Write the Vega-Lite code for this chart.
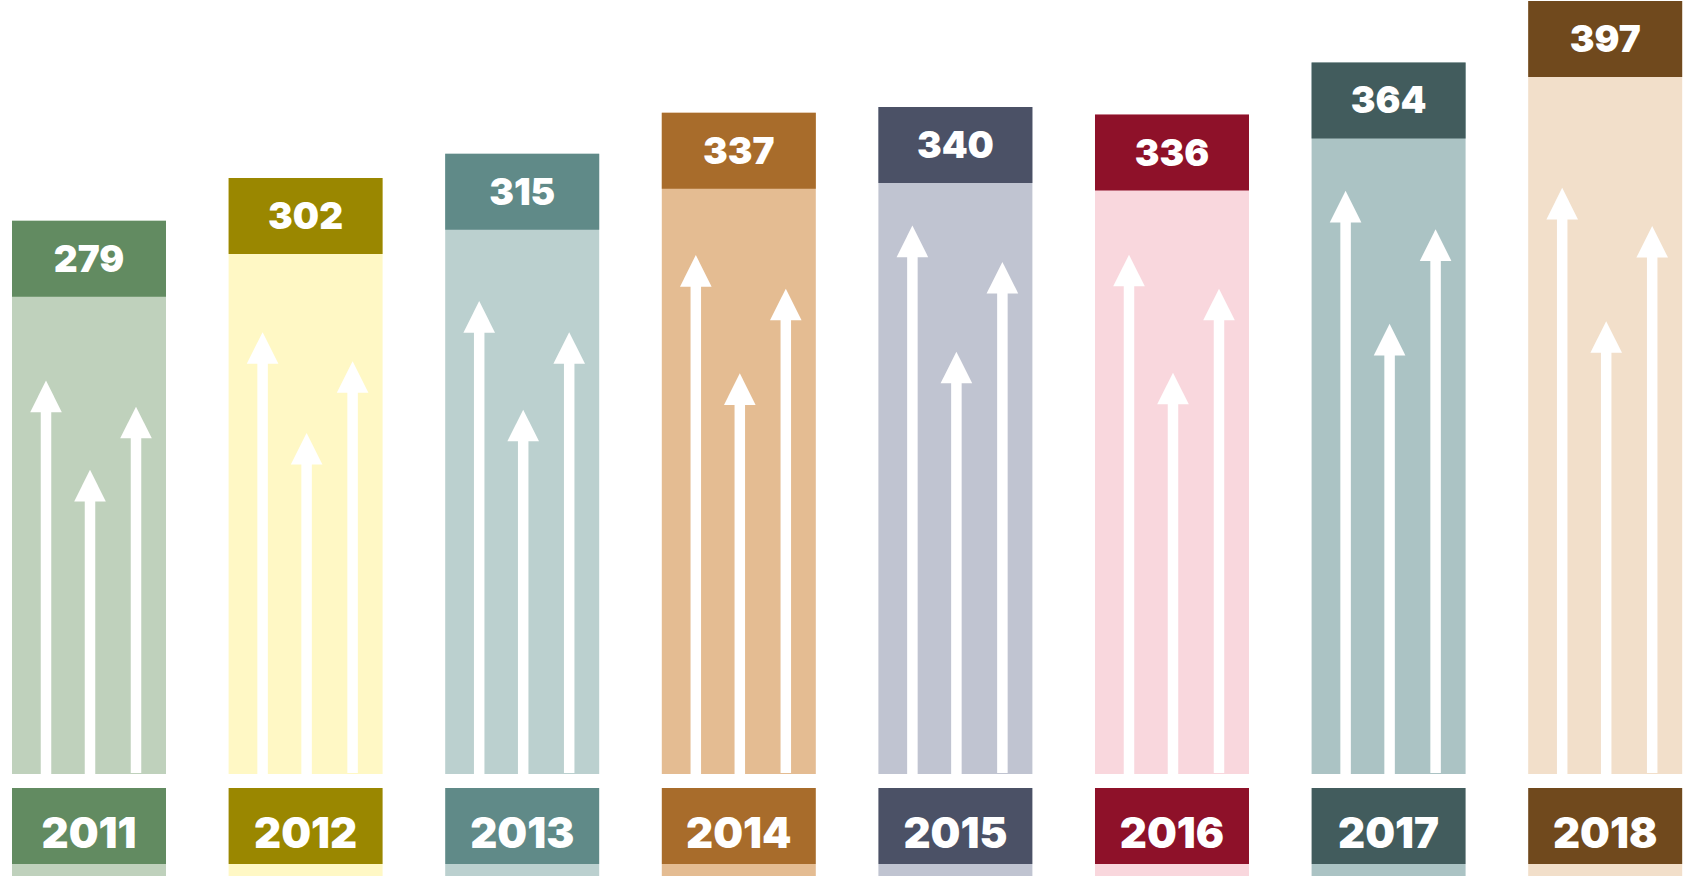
{
  "$schema": "https://vega.github.io/schema/vega-lite/v6.json",
  "padding": 0,
  "background": "white",
  "spacing": 14,
  "bounds": "flush",
  "config": {"view": {"stroke": null}, "axis": {"disable": true}, "legend": {"disable": true}, "concat": {"spacing": 14}},
  "datasets": {
    "bars": [
      {"year": "2011", "value": 279},
      {"year": "2012", "value": 302},
      {"year": "2013", "value": 315},
      {"year": "2014", "value": 337},
      {"year": "2015", "value": 340},
      {"year": "2016", "value": 336},
      {"year": "2017", "value": 364},
      {"year": "2018", "value": 397}
    ],
    "arrows": [
      {"year": "2011", "pos": "L", "tip": 193.2}, {"year": "2011", "pos": "M", "tip": 145.3}, {"year": "2011", "pos": "R", "tip": 179.2},
      {"year": "2012", "pos": "L", "tip": 219.2}, {"year": "2012", "pos": "M", "tip": 165.1}, {"year": "2012", "pos": "R", "tip": 203.6},
      {"year": "2013", "pos": "L", "tip": 235.9}, {"year": "2013", "pos": "M", "tip": 177.6}, {"year": "2013", "pos": "R", "tip": 219.2},
      {"year": "2014", "pos": "L", "tip": 260.6}, {"year": "2014", "pos": "M", "tip": 197.1}, {"year": "2014", "pos": "R", "tip": 242.5},
      {"year": "2015", "pos": "L", "tip": 276.4}, {"year": "2015", "pos": "M", "tip": 208.7}, {"year": "2015", "pos": "R", "tip": 256.9},
      {"year": "2016", "pos": "L", "tip": 260.8}, {"year": "2016", "pos": "M", "tip": 197.4}, {"year": "2016", "pos": "R", "tip": 242.5},
      {"year": "2017", "pos": "L", "tip": 295.1}, {"year": "2017", "pos": "M", "tip": 223.7}, {"year": "2017", "pos": "R", "tip": 274.4},
      {"year": "2018", "pos": "L", "tip": 296.7}, {"year": "2018", "pos": "M", "tip": 225.1}, {"year": "2018", "pos": "R", "tip": 276.2}
    ]
  },
  "vconcat": [
    {
      "width": 1687,
      "height": 774,
      "encoding": {
        "x": {"field": "year", "type": "nominal", "axis": null, "sort": null,
              "scale": {"type": "band", "paddingInner": 0.289, "paddingOuter": 0.0388, "align": 0.714}}
      },
      "layer": [
        {
          "data": {"name": "bars"},
          "mark": {"type": "bar", "width": {"band": 1}},
          "encoding": {
            "y": {"field": "value", "type": "quantitative", "axis": null, "scale": {"domain": [-18, 397.5], "nice": false, "zero": false}},
            "y2": {"datum": -18},
            "color": {"field": "year", "type": "nominal", "legend": null,
                      "scale": {"domain": ["2011","2012","2013","2014","2015","2016","2017","2018"],
                                "range": ["#BFD1BC","#FFF8C5","#BBD0CF","#E4BC92","#C0C4D1","#F9D7DD","#ABC3C4","#F2DFCA"]}}
          }
        },
        {
          "data": {"name": "bars"},
          "mark": {"type": "tick", "thickness": 76, "size": 154, "yOffset": 38, "opacity": 1, "orient": "horizontal"},
          "encoding": {
            "y": {"field": "value", "type": "quantitative"},
            "fill": {"field": "year", "type": "nominal", "legend": null,
                     "scale": {"domain": ["2011","2012","2013","2014","2015","2016","2017","2018"],
                               "range": ["#628B61","#9A8700","#608A88","#A86C2B","#4B5166","#8E1129","#425C5D","#70491D"]}}
          }
        },
        {
          "data": {"name": "bars"},
          "mark": {"type": "text", "font": "Inter", "fontWeight": 900, "fontSize": 37, "color": "white", "baseline": "middle", "align": "center", "yOffset": 40},
          "encoding": {
            "y": {"field": "value", "type": "quantitative"},
            "text": {"field": "value", "type": "quantitative"}
          }
        },
        {
          "data": {"name": "arrows"},
          "transform": [{"filter": "datum.pos === 'L'"}],
          "mark": {"type": "rule", "color": "white", "strokeWidth": 10.5, "strokeCap": "butt", "opacity": 1, "xOffset": -43, "yOffset": 20},
          "encoding": {"y": {"field": "tip", "type": "quantitative"}, "y2": {"datum": -18}}
        },
        {
          "data": {"name": "arrows"},
          "transform": [{"filter": "datum.pos === 'M'"}],
          "mark": {"type": "rule", "color": "white", "strokeWidth": 10.5, "strokeCap": "butt", "opacity": 1, "xOffset": 1, "yOffset": 20},
          "encoding": {"y": {"field": "tip", "type": "quantitative"}, "y2": {"datum": -18}}
        },
        {
          "data": {"name": "arrows"},
          "transform": [{"filter": "datum.pos === 'R'"}],
          "mark": {"type": "rule", "color": "white", "strokeWidth": 10.5, "strokeCap": "butt", "opacity": 1, "xOffset": 47, "yOffset": 20, "y2Offset": -1},
          "encoding": {"y": {"field": "tip", "type": "quantitative"}, "y2": {"datum": -18}}
        },
        {
          "data": {"name": "arrows"},
          "transform": [{"filter": "datum.pos === 'L'"}],
          "mark": {"type": "point", "filled": true, "color": "white", "opacity": 1, "size": 1000, "shape": "M-1,2L0,0L1,2Z", "xOffset": -43},
          "encoding": {"y": {"field": "tip", "type": "quantitative"}}
        },
        {
          "data": {"name": "arrows"},
          "transform": [{"filter": "datum.pos === 'M'"}],
          "mark": {"type": "point", "filled": true, "color": "white", "opacity": 1, "size": 1000, "shape": "M-1,2L0,0L1,2Z", "xOffset": 1},
          "encoding": {"y": {"field": "tip", "type": "quantitative"}}
        },
        {
          "data": {"name": "arrows"},
          "transform": [{"filter": "datum.pos === 'R'"}],
          "mark": {"type": "point", "filled": true, "color": "white", "opacity": 1, "size": 1000, "shape": "M-1,2L0,0L1,2Z", "xOffset": 47},
          "encoding": {"y": {"field": "tip", "type": "quantitative"}}
        }
      ]
    },
    {
      "spacing": 0,
      "bounds": "flush",
      "vconcat": [
        {
          "width": 1687,
          "height": 76,
          "data": {"name": "bars"},
          "encoding": {
            "x": {"field": "year", "type": "nominal", "axis": null, "sort": null,
                  "scale": {"type": "band", "paddingInner": 0.289, "paddingOuter": 0.0388, "align": 0.714}}
          },
          "layer": [
            {
              "mark": {"type": "bar", "width": {"band": 1}},
              "encoding": {
                "fill": {"field": "year", "type": "nominal", "legend": null}
              }
            },
            {
              "mark": {"type": "text", "font": "Inter", "fontWeight": 900, "fontSize": 42, "color": "white", "baseline": "middle", "align": "center", "dy": 9},
              "encoding": {
                "text": {"field": "year", "type": "nominal"}
              }
            }
          ]
        },
        {
          "width": 1687,
          "height": 12,
          "data": {"name": "bars"},
          "mark": {"type": "bar", "width": {"band": 1}},
          "encoding": {
            "x": {"field": "year", "type": "nominal", "axis": null, "sort": null,
                  "scale": {"type": "band", "paddingInner": 0.289, "paddingOuter": 0.0388, "align": 0.714}},
            "color": {"field": "year", "type": "nominal", "legend": null}
          }
        }
      ]
    }
  ]
}
